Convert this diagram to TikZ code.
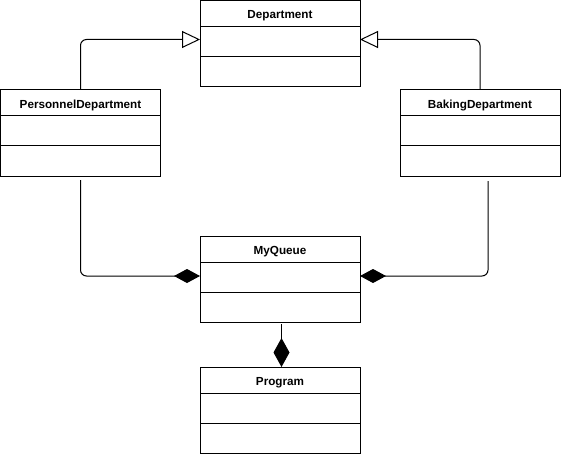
\documentclass[tikz,border=0pt]{standalone}
\usepackage{fontspec}
\setmainfont{Liberation Sans}
\usetikzlibrary{arrows.meta,calc}

\tikzset{
  classbox/.style={draw, line width=1pt, minimum width=160pt, minimum height=86pt,
    inner sep=0pt, outer sep=0pt},
  classtitle/.style={font=\fontsize{11.7}{14}\selectfont\bfseries, inner sep=0pt, anchor=center},
  link/.style={line width=1pt, rounded corners=6pt},
  inherits/.style={link, -{Triangle[open, length=18pt, width=17pt, fill=white]}},
  composes/.style={link, -{Diamond[length=26pt, width=14pt]}},
  composesv/.style={link, -{Diamond[length=29pt, width=16pt]}},
}

% class box: name, top-left corner, title
\newcommand{\umlclass}[4]{%
  \node[classbox] (#1) at ($(#2,#3)+(80,43)$) {};
  \node[classtitle] (#1-title) at ($(#1.north)+(0,15.5)$) {#4};
  \draw[line width=1pt] ($(#1.north west)+(0,26)$) -- ($(#1.north east)+(0,26)$);
  \draw[line width=1pt] ($(#1.north west)+(0,56)$) -- ($(#1.north east)+(0,56)$);
}

\begin{document}
\begin{tikzpicture}[x=1pt, y=-1pt]
  \useasboundingbox (0,0) rectangle (561,457);

  \umlclass{dep}{200}{0.5}{Department}
  \umlclass{pd}{0.5}{90}{PersonnelDepartment}
  \umlclass{bd}{400}{90}{BakingDepartment}
  \umlclass{mq}{200}{236}{MyQueue}
  \umlclass{prog}{200}{367}{Program}

  % generalisation
  \draw[inherits] (pd.north) |- ($(dep.west)+(0,-4)$);
  \draw[inherits] (bd.north) |- ($(dep.east)+(0,-4)$);

  % composition
  \draw[composes, shorten <=4pt] (pd.south) |- ($(mq.west)+(0,-3)$);
  \coordinate (bdout) at ($(bd.south)+(8,0)$);
  \draw[composes, shorten <=5pt] (bdout) |- ($(mq.east)+(0,-3)$);
  \coordinate (mqout) at ($(mq.south)+(1.5,0)$);
  \draw[composesv, shorten <=2pt] (mqout) -- (mqout |- prog.north);
\end{tikzpicture}
\end{document}
